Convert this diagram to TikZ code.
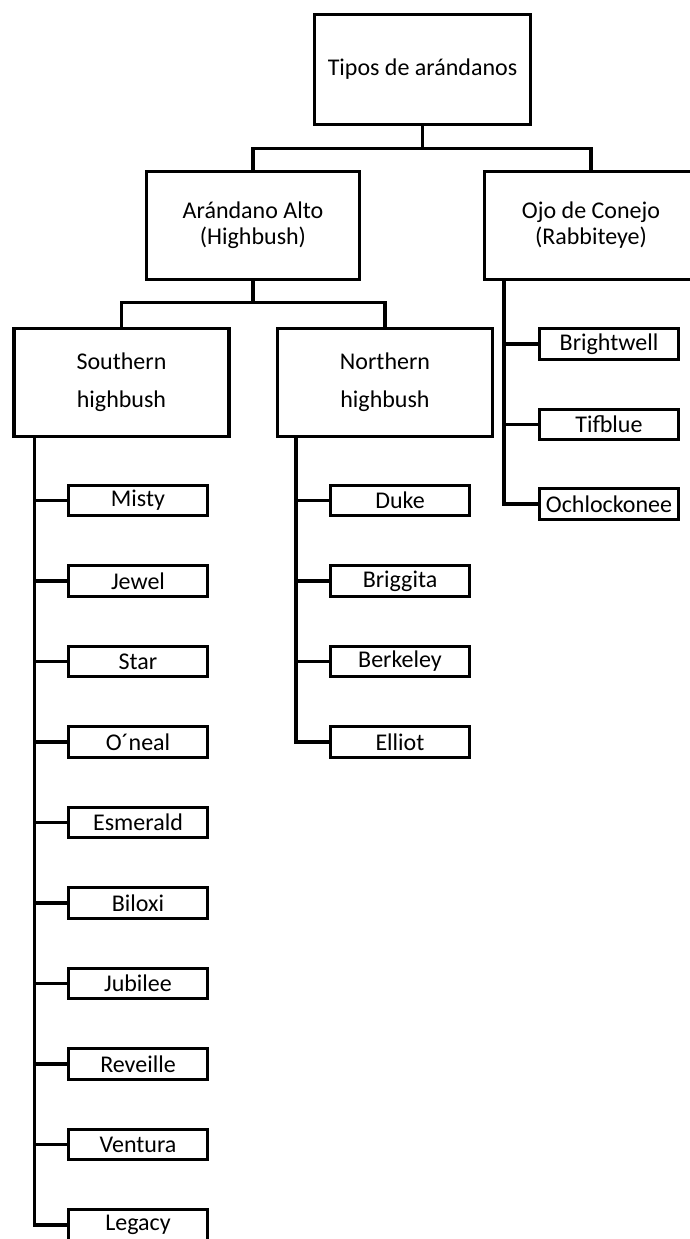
\documentclass[tikz,border=0pt]{standalone}
\usepackage{fontspec}
\setmainfont{Carlito}
\usetikzlibrary{positioning,calc}

\begin{document}
\begin{tikzpicture}[x=1pt, y=-1pt,
    box/.style={rectangle, draw=black, line width=3.4pt, inner sep=0pt, align=center, font=\fontsize{24}{26}\selectfont},
    bigbox/.style={box, minimum width=213pt, minimum height=107.5pt},
    groupbox/.style={box, minimum width=215pt, minimum height=107.5pt, font=\fontsize{24}{38}\selectfont},
    leafbox/.style={box, minimum width=138.5pt, minimum height=30.5pt},
    link/.style={line width=3.4pt}
]
\useasboundingbox (0,0) rectangle (689,1239);

% Top level
\node[box, minimum width=215.5pt, minimum height=109.5pt] (root) at (422.5, 69.5) {Tipos de arándanos};

% Second level
\node[bigbox] (alto) at (253, 225.5) {Arándano Alto\\(Highbush)};
\node[bigbox] (conejo) at (591, 225.5) {Ojo de Conejo\\(Rabbiteye)};

% Third level
\node[groupbox] (southern) at (121.5, 382.5) {Southern\\highbush};
\node[groupbox] (northern) at (385, 382.5) {Northern\\highbush};

% Southern highbush varieties
\node[leafbox] (misty) at (138, 500.5) {Misty};
\node[leafbox] (jewel) at (138, 581) {Jewel};
\node[leafbox] (star) at (138, 661.5) {Star};
\node[leafbox] (oneal) at (138, 742) {O´neal};
\node[leafbox] (esmerald) at (138, 822.5) {Esmerald};
\node[leafbox] (biloxi) at (138, 903) {Biloxi};
\node[leafbox] (jubilee) at (138, 983.5) {Jubilee};
\node[leafbox] (reveille) at (138, 1064) {Reveille};
\node[leafbox] (ventura) at (138, 1144.5) {Ventura};
\node[leafbox] (legacy) at (138, 1225) {Legacy};

% Northern highbush varieties
\node[leafbox] (duke) at (400, 500.5) {Duke};
\node[leafbox] (briggita) at (400, 581) {Briggita};
\node[leafbox] (berkeley) at (400, 661.5) {Berkeley};
\node[leafbox] (elliot) at (400, 742) {Elliot};

% Rabbiteye varieties
\node[leafbox] (brightwell) at (609, 344) {Brightwell};
\node[leafbox] (tifblue) at (609, 424.5) {Tifblue};
\node[leafbox] (ochlockonee) at (609, 504) {Ochlockonee};

% Tree connectors
\draw[link] (root.south) -- ++(0,22.5) -| (alto.north);
\draw[link] (root.south) -- ++(0,22.5) -| (conejo.north);
\draw[link] (alto.south) -- ++(0,21.5) -| (southern.north);
\draw[link] (alto.south) -- ++(0,21.5) -| (northern.north);

% Trunks
\coordinate (strunk) at ([xshift=22pt]southern.south west);
\coordinate (ntrunk) at ([xshift=20pt]northern.south west);
\coordinate (ctrunk) at ([xshift=21pt]conejo.south west);

\draw[link] (strunk) |- (legacy.west);
\draw[link] (strunk |- misty.west) -- (misty.west);
\draw[link] (strunk |- jewel.west) -- (jewel.west);
\draw[link] (strunk |- star.west) -- (star.west);
\draw[link] (strunk |- oneal.west) -- (oneal.west);
\draw[link] (strunk |- esmerald.west) -- (esmerald.west);
\draw[link] (strunk |- biloxi.west) -- (biloxi.west);
\draw[link] (strunk |- jubilee.west) -- (jubilee.west);
\draw[link] (strunk |- reveille.west) -- (reveille.west);
\draw[link] (strunk |- ventura.west) -- (ventura.west);

\draw[link] (ntrunk) |- (elliot.west);
\draw[link] (ntrunk |- duke.west) -- (duke.west);
\draw[link] (ntrunk |- briggita.west) -- (briggita.west);
\draw[link] (ntrunk |- berkeley.west) -- (berkeley.west);

\draw[link] (ctrunk) |- (ochlockonee.west);
\draw[link] (ctrunk |- brightwell.west) -- (brightwell.west);
\draw[link] (ctrunk |- tifblue.west) -- (tifblue.west);

\end{tikzpicture}
\end{document}
